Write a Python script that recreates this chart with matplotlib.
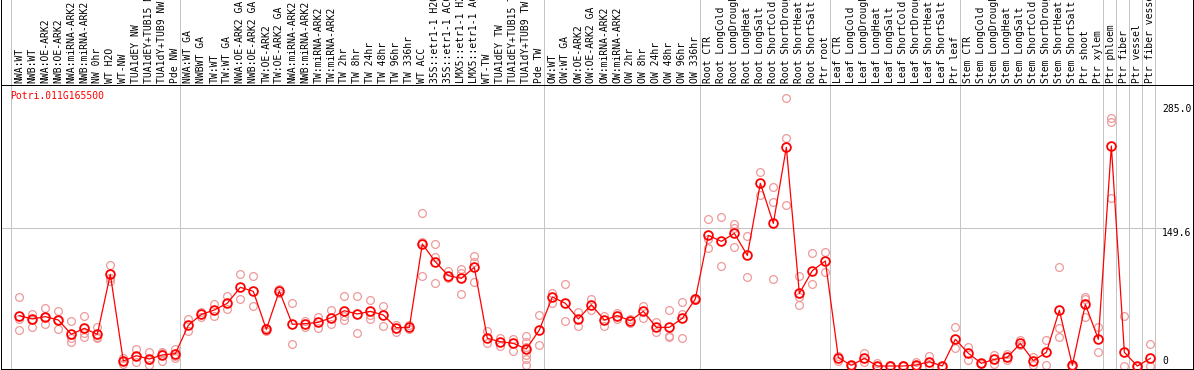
import matplotlib
matplotlib.use("Agg")
import matplotlib.pyplot as plt
import matplotlib.transforms as mtransforms

plt.rcParams['font.family'] = ['DejaVu Sans Mono']

gene = "Potri.011G165500"

# sample labels, in display order
nw_labels = ["NWA:WT", "NWB:WT", "NWA:OE-ARK2", "NWB:OE-ARK2", "NWA:miRNA-ARK2",
             "NWB:miRNA-ARK2", "NW 0hr", "WT H2O", "WT-NW", "TUA1dEY NW",
             "TUA1dEY+TUB15 NW", "TUA1dY+TUB9 NW", "Pde NW"]
tw_labels = ["NWA:WT GA", "NWBWT GA", "TW:WT", "TW:WT GA", "NWA:OE-ARK2 GA",
             "NWB:OE-ARK2 GA", "TW:OE-ARK2", "TW:OE-ARK2 GA", "NWA:miRNA-ARK2",
             "NWB:miRNA-ARK2", "TW:miRNA-ARK2", "TW:miRNA-ARK2", "TW 2hr",
             "TW 8hr", "TW 24hr", "TW 48hr", "TW 96hr", "TW 336hr", "WT ACC",
             "35S::etr1-1 H2O", "35S::etr1-1 ACC", "LMX5::etr1-1 H2O",
             "LMX5::etr1-1 ACC", "WT-TW", "TUA1dEY TW", "TUA1dEY+TUB15 TW",
             "TUA1dY+TUB9 TW", "Pde TW"]
ow_labels = ["OW:WT", "OW:WT GA", "OW:OE-ARK2", "OW:OE-ARK2 GA", "OW:miRNA-ARK2",
             "OW:miRNA-ARK2", "OW 2hr", "OW 8hr", "OW 24hr", "OW 48hr",
             "OW 96hr", "OW 336hr"]
stress = ["CTR", "LongCold", "LongDrought", "LongHeat", "LongSalt",
          "ShortCold", "ShortDrought", "ShortHeat", "ShortSalt"]
root_labels = ["Root " + s for s in stress] + ["Ptr root"]
leaf_labels = ["Leaf " + s for s in stress] + ["Ptr leaf"]
stem_labels = ["Stem " + s for s in stress] + ["Ptr shoot", "Ptr xylem"]
tissue_labels = ["Ptr phloem", "Ptr fiber", "Ptr vessel", "Ptr fiber vessel"]

groups = [nw_labels, tw_labels, ow_labels, root_labels, leaf_labels,
          stem_labels] + [[t] for t in tissue_labels]
labels = [l for g in groups for l in g]

# mean expression per sample
means = [54.7, 51.1, 53.6, 50.0, 34.4, 40.9, 34.4, 99.6, 5.4, 11.2, 7.6, 12.0, 13.4,
         44.2, 56.1, 60.8, 68.1, 85.5, 81.1, 39.8, 81.5, 45.3, 46.0, 47.4, 52.5,
         60.1, 56.5, 59.4, 55.4, 41.6, 42.0, 132.5, 113.3, 98.1, 95.2, 107.2,
         30.1, 26.4, 24.6, 18.5, 39.1,
         75.0, 68.1, 51.1, 66.6, 50.0, 54.7, 49.2, 59.4, 42.0, 42.0, 51.8, 72.8,
         142.0, 135.4, 144.1, 120.2, 198.4, 155.0, 237.6, 78.9, 103.6, 114.1,
         9.1, 0.7, 8.3, 0.0, 0.0, 0.0, 1.1, 4.7, 0.0, 29.0,
         13.8, 2.9, 7.2, 9.4, 24.6, 5.8, 14.8, 60.5, 0.7, 67.0, 29.0,
         239.0, 14.8, 0.0, 8.3]

# individual replicates per sample
reps = [[74.6, 51.1, 39.1], [56.5, 42.7, 50.0], [62.6, 45.3, 52.9], [59.8, 39.8, 50.0],
        [48.5, 30.1, 25.7], [54.0, 35.5, 31.9], [42.0, 31.9, 30.1], [109.4, 95.2, 92.7],
        [9.1, 1.8, 5.4], [18.5, 4.0, 11.2], [14.8, 1.1, 6.5], [15.6, 13.8, 5.8],
        [18.1, 11.2, 9.1],
        [51.4, 37.7], [59.0, 52.9], [67.4, 54.7], [75.7, 61.9], [99.6, 72.4],
        [97.4, 64.8], [40.9, 38.4], [83.3, 79.7], [68.1, 23.5], [48.9, 42.0],
        [52.9, 41.6], [60.8, 45.3], [75.7, 54.7, 50.0], [75.7, 35.5],
        [71.7, 51.4, 55.0], [65.2, 43.1], [44.5, 36.6], [44.5, 40.6],
        [165.9, 135.1, 97.8], [132.2, 118.8, 89.8], [103.2, 95.2],
        [105.0, 101.4, 77.9], [119.5, 113.0, 90.9], [38.0, 24.6], [30.1, 21.7],
        [29.3, 16.3], [33.0, 26.4, 20.3, 12.0, 7.2, 1.1], [55.0, 22.5],
        [79.7, 68.1], [89.1, 48.9], [58.7, 43.1], [72.4, 60.8], [54.3, 43.5],
        [57.9, 51.1], [46.4, 50.7], [65.2, 51.8], [47.4, 37.3], [60.5, 33.0, 31.9],
        [69.2, 56.5, 30.1], [73.9, 71.3],
        [159.3, 137.6, 127.8], [161.5, 108.6], [153.9, 149.6, 128.9], [141.2, 97.1],
        [210.4, 185.8], [194.1, 177.8, 94.2], [290.8, 247.3, 174.5],
        [98.1, 75.3, 66.3], [122.4, 88.7], [123.5, 102.5],
        [11.2, 5.8], [0.7, 0.0], [13.8, 4.7], [3.6, 0.0], [0.7, 0.0], [0.7, 0.0],
        [4.7, 0.0], [11.2, 0.0], [0.0, 0.0], [42.7, 19.2],
        [21.0, 6.5], [3.6, 2.2], [12.0, 2.2], [13.0, 6.5], [28.2, 22.8], [9.4, 1.1],
        [28.2, 1.1], [107.9, 41.6, 31.9], [0.0, 0.0], [74.6, 72.4, 53.6], [42.0, 15.6],
        [269.8, 264.7, 182.1], [54.0, 0.0], [0.0, 0.0], [23.5, 0.0]]

yticks = [0, 149.6, 285.0]
ytick_labels = ["0", "149.6", "285.0"]

W, H = 1194, 370
fig = plt.figure(figsize=(W / 100, H / 100), dpi=100)
ax = fig.add_axes([1 / W, 1 / H, 1192 / W, 284 / H])
hx = fig.add_axes([1 / W, 285 / H, 1192 / W, 85 / H], sharex=ax)

lw = 0.72
for a in (ax, hx):
    for s in a.spines.values():
        s.set_linewidth(lw)
        s.set_color('black')
    a.tick_params(left=False, bottom=False, labelleft=False, labelbottom=False)
hx.spines['top'].set_visible(False)

x = list(range(len(labels)))
ax.set_xlim(-1.408, 90.28)
ax.set_ylim(-3.26, 305.3)
hx.set_ylim(0, 1)

# group separators
off = 0.66
edges = [0]
for g in groups:
    edges.append(edges[-1] + len(g))
for e in edges:
    ax.axvline(e - off, color='#c4c4c4', lw=lw, zorder=0)
    hx.axvline(e - off, color='#c4c4c4', lw=lw, zorder=0)

ax.axhline(yticks[1], xmin=0, xmax=0.974, color='#c4c4c4', lw=lw, zorder=0)

for i, r in enumerate(reps):
    ax.plot([i] * len(r), r, 'o', ms=5.6, mfc='none', mec='#ee9a9a',
            mew=0.9, zorder=2)
ax.plot(x, means, '-', color='red', lw=0.9, zorder=3)
ax.plot(x, means, 'o', ms=6.3, mfc='none', mec='red', mew=1.3, zorder=4)

ax.text(9 / 1192, 1 - 6 / 284, gene, color='red', fontsize=7,
        transform=ax.transAxes, ha='left', va='top')

tr = mtransforms.blended_transform_factory(ax.transAxes, ax.transData)
for v, t in zip(yticks, ytick_labels):
    ax.text(0.974, v, t, fontsize=7, transform=tr, ha='left',
            va='bottom' if v == 0 else 'top')

for i, l in enumerate(labels):
    hx.text(i, 2 / 85, l, rotation=90, ha='center', va='bottom', fontsize=7)

fig.savefig("out.png", dpi=100)
